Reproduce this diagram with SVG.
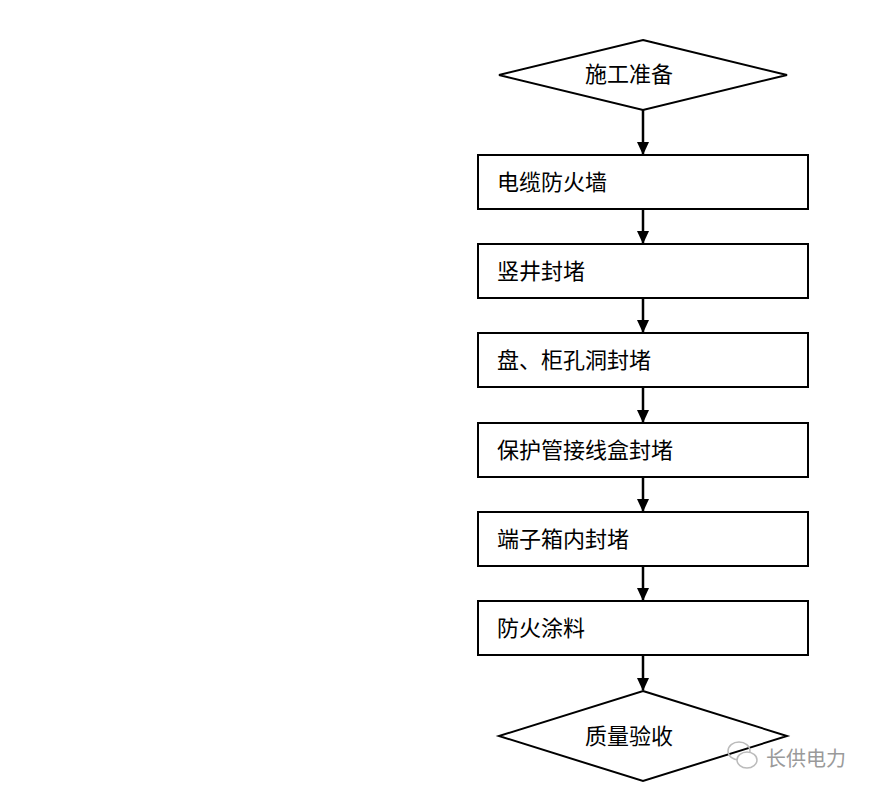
<svg xmlns="http://www.w3.org/2000/svg" width="880" height="797" viewBox="0 0 880 797">
<style>
.n{fill:#fff;stroke:#000;stroke-width:2}
.t{font-family:"Liberation Serif","Noto Sans CJK SC",serif;font-size:22px;fill:#000}
.c line{stroke:#000;stroke-width:2.5}
.w{font-family:"Noto Sans CJK SC",sans-serif;font-size:20px;fill:#9a9a9a}
</style>
<defs><marker id="a" markerWidth="13" markerHeight="12" refX="12" refY="6" orient="auto" markerUnits="userSpaceOnUse" viewBox="0 0 13 12"><path d="M0,0 L13,6 L0,12 Z" fill="#000"/></marker></defs>
<rect width="880" height="797" fill="#fff"/>
<g class="c">
<line x1="643" y1="110" x2="643" y2="154" marker-end="url(#a)"/>
<line x1="643" y1="209" x2="643" y2="243" marker-end="url(#a)"/>
<line x1="643" y1="298" x2="643" y2="332" marker-end="url(#a)"/>
<line x1="643" y1="387" x2="643" y2="422" marker-end="url(#a)"/>
<line x1="643" y1="477" x2="643" y2="511" marker-end="url(#a)"/>
<line x1="643" y1="566" x2="643" y2="600" marker-end="url(#a)"/>
<line x1="643" y1="655" x2="643" y2="690" marker-end="url(#a)"/>
</g>
<g id="n0"><polygon class="n" points="643,40 787,75 643,110 499,75"/><text class="t" x="629" y="82" text-anchor="middle">施工准备</text></g>
<g id="n1"><rect class="n" x="478" y="155" width="330" height="54"/><text class="t" x="497" y="190">电缆防火墙</text></g>
<g id="n2"><rect class="n" x="478" y="244" width="330" height="54"/><text class="t" x="497" y="279">竖井封堵</text></g>
<g id="n3"><rect class="n" x="478" y="333" width="330" height="54"/><text class="t" x="497" y="368">盘、柜孔洞封堵</text></g>
<g id="n4"><rect class="n" x="478" y="423" width="330" height="54"/><text class="t" x="497" y="458">保护管接线盒封堵</text></g>
<g id="n5"><rect class="n" x="478" y="512" width="330" height="54"/><text class="t" x="497" y="547">端子箱内封堵</text></g>
<g id="n6"><rect class="n" x="478" y="601" width="330" height="54"/><text class="t" x="497" y="636">防火涂料</text></g>
<g id="n7"><polygon class="n" points="643,691 787,736 643,781 499,736"/><text class="t" x="629" y="744" text-anchor="middle">质量验收</text></g>
<g id="wm" fill="none" stroke="#bbb" stroke-width="1.5"><ellipse cx="739" cy="751" rx="11" ry="9"/><ellipse cx="747" cy="760" rx="10" ry="8" fill="#fff"/></g>
<text class="w" x="766" y="766">长供电力</text>
</svg>
